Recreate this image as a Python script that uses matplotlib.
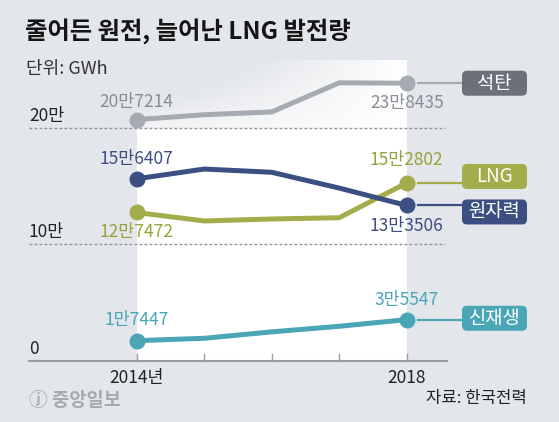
import matplotlib
matplotlib.use("Agg")
import matplotlib.pyplot as plt
from matplotlib.patches import FancyBboxPatch
from matplotlib.colors import LinearSegmentedColormap
import numpy as np

plt.rcParams['font.family'] = ['Noto Sans CJK KR', 'DejaVu Sans']

# data (GWh)
years = [2014, 2015, 2016, 2017, 2018]
coal = [207214, 211393, 213803, 238799, 238435]
lng = [127472, 120200, 121900, 123000, 152802]
nuclear = [156407, 164762, 161995, 148427, 133506]
renew = [17447, 19500, 25000, 29800, 35547]

names = ['석탄', 'LNG', '원자력', '신재생']
start_labels = ['20만7214', '12만7472', '15만6407', '1만7447']
end_labels = ['23만8435', '15만2802', '13만3506', '3만5547']
x_labels = ['2014년', '', '', '', '2018']
y_ticks = [0, 100000, 200000]
y_tick_labels = ['0', '10만', '20만']

series = [coal, lng, nuclear, renew]
line_colors = ['#a8aab2', '#a3ad4c', '#3c4f83', '#4aa6b6']
box_colors = ['#6c707b', '#a3ad4c', '#3c4f83', '#4aa6b6']
text_colors = ['#8a8d97', '#98a23e', '#3c4f83', '#4aa6b6']
start_off = [18, -20, 20, 21]      # label offsets, pixels (up = +)
end_off = [-20, 23, -21, 20]
box_shift = [0, 6.5, -6.5, 1.3]    # box centre vs 2018 point, pixels (up = +)

bg = '#e3e6ea'
W, H = 559, 422
fig = plt.figure(figsize=(W / 100, H / 100), dpi=100)
fig.patch.set_facecolor(bg)
ax = fig.add_axes([0, 0, 1, 1])
ax.set_axis_off()
ax.set_facecolor(bg)

# pixel layout: 2014 at column 136.7, 67.5 px per year; 0 at row 361, 116.5 px per 100000
x0, xs = 136.7, 67.5
y0, ys = 361, 116.5 / 100000


def cx(px):
    return 2014 + (px - x0) / xs


def cy(row):
    return (y0 - row) / ys


# white band behind the data, fading toward the top-left above the 20만 line
ax.fill_between([2014, 2018], 0, 200000, color='white', zorder=0, lw=0)
gx = np.linspace(0, 1, 200)
gy = np.linspace(0, 1, 50)
GX, GY = np.meshgrid(gx, gy)
grad = np.clip(1 - (1 - GX) * 1.3 * (0.4 + GY), 0, 1)
cmap = LinearSegmentedColormap.from_list('bgw', [bg, 'white'])
ax.imshow(grad, extent=[2014, 2018, 200000, cy(60)], origin='lower',
          aspect='auto', cmap=cmap, vmin=0, vmax=1, zorder=0)

# grid / baseline
for v in y_ticks[1:]:
    ax.plot([cx(29), cx(445)], [v, v], ls=(0, (2, 1.6)), color='#8f9297', lw=1, zorder=1)
ax.plot([cx(29), cx(447)], [0, 0], color='#9a9da2', lw=1.5, zorder=1)
for yr in years:
    ax.plot([yr, yr], [0, 7 / ys], color='#9a9da2', lw=1, zorder=1)

for v, lab in zip(y_ticks, y_tick_labels):
    ax.text(cx(29), v + 3 / ys, lab, fontsize=12.5, color='#222222', ha='left', va='bottom')

for yr, lab in zip(years, x_labels):
    if lab:
        ax.text(yr, cy(378), lab, fontsize=12.5, color='#222222', ha='center', va='center')

# lines
for vals, lc, tc, so, eo, sl, el, name, bc, bs in zip(series, line_colors, text_colors,
                                                     start_off, end_off, start_labels, end_labels,
                                                     names, box_colors, box_shift):
    ax.plot(years, vals, color=lc, lw=3.6, solid_joinstyle='round', solid_capstyle='round', zorder=3)
    ax.plot([years[0], years[-1]], [vals[0], vals[-1]], 'o', color=lc, markersize=10.5, zorder=4)
    ax.annotate(sl, (years[0], vals[0]), xytext=(0, so), textcoords='offset pixels',
                ha='center', va='center', fontsize=12.5, color=tc, zorder=5)
    ax.annotate(el, (years[-1], vals[-1]), xytext=(0, eo), textcoords='offset pixels',
                ha='center', va='center', fontsize=12.5, color=tc, zorder=5)
    # connector + name box
    ax.plot([cx(418), cx(462)], [vals[-1], vals[-1]], color=lc, lw=1.6, zorder=2)
    yc = vals[-1] + bs / ys
    bw, bh = 65 / xs, 25 / ys
    box = FancyBboxPatch((cx(462), yc - bh / 2), bw, bh,
                         boxstyle='round,pad=0,rounding_size=%f' % (5 / xs),
                         mutation_aspect=(1 / ys) * xs, fc=bc, ec='none', zorder=5)
    ax.add_patch(box)
    ax.text(cx(462) + bw / 2, yc, name, color='white', fontsize=13.5,
            ha='center', va='center', zorder=6)

ax.set_xlim(cx(0), cx(W))
ax.set_ylim(cy(H), cy(0))

fig.text(25 / W, 1 - 31 / H, '줄어든 원전, 늘어난 LNG 발전량', fontsize=17.5, fontweight='bold',
         color='#151515', ha='left', va='center')
fig.text(26 / W, 1 - 69 / H, '단위: GWh', fontsize=13, color='#333333', ha='left', va='center')
fig.text(29 / W, 1 - 400 / H, 'ⓙ 중앙일보', fontsize=13.5, fontweight='bold', color='#a6a9ae',
         ha='left', va='center')
fig.text(527 / W, 1 - 399 / H, '자료: 한국전력', fontsize=12, color='#222222',
         ha='right', va='center')

fig.savefig('out.png', dpi=100, facecolor=bg)
